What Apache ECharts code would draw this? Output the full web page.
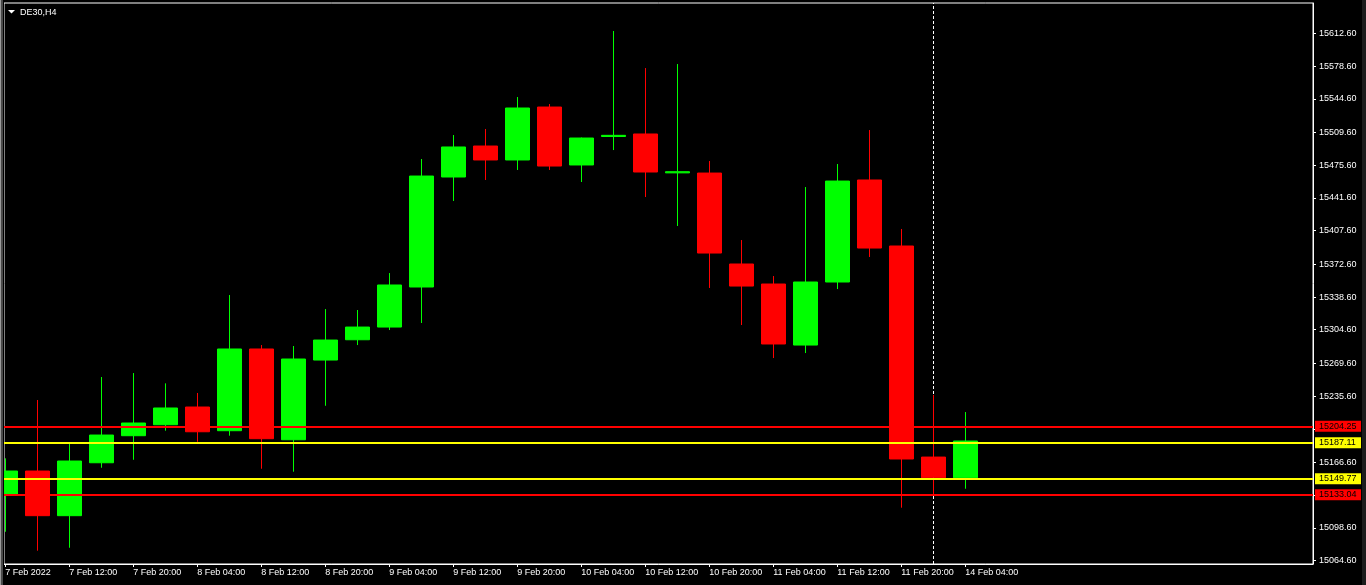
<!DOCTYPE html>
<html>
<head>
<meta charset="utf-8">
<script src="https://cdn.jsdelivr.net/npm/echarts@6/dist/echarts.min.js"></script>
<style>
html,body{margin:0;padding:0;background:#000;}
#chart{width:1366px;height:585px;}
</style>
</head>
<body>
<div id="chart"></div>
<script>
// ---- data ----
const times = ['7 Feb 04:00','7 Feb 08:00','7 Feb 12:00','7 Feb 16:00','7 Feb 20:00',
  '8 Feb 00:00','8 Feb 04:00','8 Feb 08:00','8 Feb 12:00','8 Feb 16:00','8 Feb 20:00',
  '9 Feb 00:00','9 Feb 04:00','9 Feb 08:00','9 Feb 12:00','9 Feb 16:00','9 Feb 20:00',
  '10 Feb 00:00','10 Feb 04:00','10 Feb 08:00','10 Feb 12:00','10 Feb 16:00','10 Feb 20:00',
  '11 Feb 00:00','11 Feb 04:00','11 Feb 08:00','11 Feb 12:00','11 Feb 16:00','11 Feb 20:00',
  '14 Feb 00:00','14 Feb 04:00'];
const opens  = [15133.9,15157.8,15111.4,15166.4,15194.5,15205.9,15224.3,15199.7,15284.6,15190.3,15273.1,
  15294.2,15307.4,15349.0,15463.3,15495.5,15481.0,15536.0,15475.8,15505.4,15508.0,15467.6,15467.4,
  15372.9,15352.1,15288.7,15354.2,15460.2,15391.6,15172.3,15150.8];
const closes = [15157.8,15111.4,15168.2,15195.2,15207.7,15223.3,15198.6,15284.6,15191.4,15274.2,15293.9,
  15307.4,15351.1,15464.3,15494.5,15481.0,15535.0,15474.7,15503.8,15506.6,15468.5,15468.8,15384.3,
  15350.0,15289.8,15354.2,15459.1,15389.5,15170.3,15150.8,15189.0];
const lows   = [15094.7,15075.0,15078.1,15161.2,15169.5,15199.7,15188.2,15194.5,15160.2,15157.1,15225.6,
  15288.7,15304.3,15311.6,15438.4,15460.2,15470.6,15470.6,15458.1,15491.3,15442.5,15412.4,15348.0,
  15309.5,15275.2,15280.4,15346.9,15380.2,15119.7,15132.9,15139.4];
const highs  = [15171.0,15231.6,15186.6,15255.5,15259.6,15248.9,15238.9,15340.7,15288.7,15287.7,15326.1,
  15325.1,15363.5,15482.0,15506.9,15513.2,15546.4,15539.1,15504.3,15615.0,15576.5,15580.7,15479.9,
  15397.8,15360.4,15452.9,15476.8,15512.1,15409.3,15236.8,15219.1];
const xTickIndex  = [0,2,4,6,8,10,12,14,16,18,20,22,24,26,28,30];
const xTickLabels = ['7 Feb 2022','7 Feb 12:00','7 Feb 20:00','8 Feb 04:00','8 Feb 12:00','8 Feb 20:00',
  '9 Feb 04:00','9 Feb 12:00','9 Feb 20:00','10 Feb 04:00','10 Feb 12:00','10 Feb 20:00',
  '11 Feb 04:00','11 Feb 12:00','11 Feb 20:00','14 Feb 04:00'];
const yTickValues = [15064.6,15098.6,15132.6,15166.6,15201.6,15235.6,15269.6,15304.6,15338.6,
  15372.6,15407.6,15441.6,15475.6,15509.6,15544.6,15578.6,15612.6];
const redLevels = [15204.25, 15133.04];
const yellowLevels = [15187.11, 15149.77];
const weekStart = '14 Feb 00:00';
const symbolName = 'DE30,H4';

// ---- chart ----
const FONT = 'Liberation Sans, Arial, sans-serif';
const chart = echarts.init(document.getElementById('chart'), null, {renderer: 'canvas'});
const candles = times.map((t, i) => [i, opens[i], closes[i], lows[i], highs[i]]);

function levelLine(v, color) {
  return {
    yAxis: v,
    lineStyle: {color: color, width: 2, type: 'solid'},
    label: {
      show: true, position: 'end', distance: 2,
      formatter: () => v.toFixed(2),
      color: '#000', backgroundColor: color,
      fontFamily: FONT, fontSize: 9,
      lineHeight: 10, padding: [1, 4, 0, 4], width: 38, align: 'left'
    }
  };
}

const option = {
  animation: false,
  backgroundColor: '#000',
  title: {
    text: symbolName, left: 20, top: 7, padding: 0,
    textStyle: {color: '#fff', fontSize: 9, fontWeight: 'normal', fontFamily: FONT, lineHeight: 12}
  },
  grid: {
    left: 4, right: 53, top: 3, bottom: 21,
    show: true, borderColor: '#fff', borderWidth: 1, backgroundColor: '#000',
    containLabel: false, outerBoundsMode: 'none'
  },
  xAxis: {
    type: 'value', min: -0.04, max: 40.866,
    axisLine: {show: true, onZero: false, lineStyle: {color: '#fff', width: 1}},
    axisTick: {show: true, length: 3, customValues: xTickIndex, lineStyle: {color: '#fff'}},
    axisLabel: {
      show: true, customValues: xTickIndex, color: '#fff', fontSize: 9, fontFamily: FONT,
      margin: 3, lineHeight: 12, align: 'left',
      formatter: (v) => xTickLabels[xTickIndex.indexOf(Math.round(v))] || ''
    },
    splitLine: {show: false}
  },
  yAxis: {
    type: 'value', position: 'right', min: 15061.2, max: 15644.1, scale: true,
    axisLine: {show: true, onZero: false, lineStyle: {color: '#fff', width: 1}},
    axisTick: {show: true, length: 3, customValues: yTickValues, lineStyle: {color: '#fff'}},
    axisLabel: {
      show: true, customValues: yTickValues, color: '#fff', fontSize: 9, fontFamily: FONT,
      margin: 6, align: 'left',
      formatter: (v) => v.toFixed(2)
    },
    splitLine: {show: false}
  },
  graphic: [
    {type: 'polygon', shape: {points: [[8, 10], [15, 10], [11.5, 13.5]]}, style: {fill: '#fff'}, z: 100},
    {type: 'rect', shape: {x: 0, y: 0, width: 4, height: 585}, style: {fill: '#000'}, z: 100},
    {type: 'rect', shape: {x: 0, y: 0, width: 1, height: 585}, style: {fill: '#9a9a9a'}, z: 101},
    {type: 'rect', shape: {x: 1, y: 0, width: 2, height: 585}, style: {fill: '#4a4a4a'}, z: 101},
    {type: 'rect', shape: {x: 1362, y: 0, width: 4, height: 585}, style: {fill: '#1c1c1c'}, z: 101}
  ],
  series: [
    {
      type: 'line', data: [], z: 1, silent: true,
      markLine: {
        z: 1, silent: true, symbol: 'none', animation: false,
        data: [{xAxis: times.indexOf(weekStart), lineStyle: {color: '#fff', width: 1, type: [3, 2]}, label: {show: false}}]
      }
    },
    {
      type: 'candlestick', z: 2, silent: true, clip: true,
      barWidth: 24,
      itemStyle: {color: '#00ff00', color0: '#ff0000', borderColor: '#00ff00', borderColor0: '#ff0000', borderWidth: 1},
      emphasis: {disabled: true},
      data: candles,
      markLine: {
        z: 5, silent: true, symbol: 'none', animation: false,
        data: redLevels.map(v => levelLine(v, '#ff0000')).concat(yellowLevels.map(v => levelLine(v, '#ffff00')))
      }
    }
  ]
};
chart.setOption(option);
</script>
</body>
</html>
